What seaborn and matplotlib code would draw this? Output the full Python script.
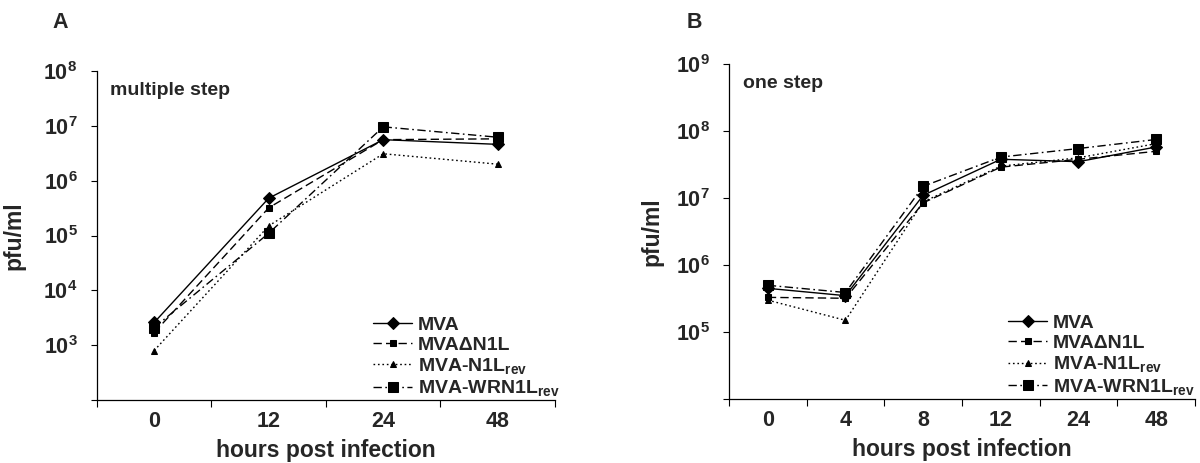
import matplotlib
matplotlib.use("Agg")
import matplotlib.pyplot as plt
import seaborn as sns
import numpy as np
from matplotlib.ticker import FixedLocator, FuncFormatter

sns.set_theme(style="white")
plt.rcParams['font.family'] = ['Liberation Sans', 'DejaVu Sans']
plt.rcParams['font.weight'] = 'bold'
plt.rcParams['mathtext.fontset'] = 'custom'
plt.rcParams['mathtext.rm'] = 'Liberation Sans:bold'
plt.rcParams['mathtext.it'] = 'Liberation Sans:bold'
plt.rcParams['mathtext.bf'] = 'Liberation Sans:bold'
plt.rcParams['mathtext.default'] = 'rm'

# ---------- data ----------
series_names = ["MVA", "MVA\u0394N1L", "MVA-N1L$_{rev}$", "MVA-WRN1L$_{rev}$"]

hours_a = ["0", "12", "24", "48"]
mva_a = [2.6e3, 4.8e5, 5.6e6, 4.6e6]
dn1l_a = [1.7e3, 3.2e5, 5.6e6, 5.8e6]
n1lrev_a = [8.0e2, 1.5e5, 3.1e6, 2.0e6]
wrn1lrev_a = [2.1e3, 1.1e5, 9.6e6, 6.2e6]

hours_b = ["0", "4", "8", "12", "24", "48"]
mva_b = [4.5e5, 3.5e5, 1.1e7, 3.8e7, 3.5e7, 5.8e7]
dn1l_b = [3.3e5, 3.2e5, 8.5e6, 2.9e7, 3.8e7, 5.0e7]
n1lrev_b = [3.0e5, 1.5e5, 8.8e6, 3.0e7, 4.0e7, 6.5e7]
wrn1lrev_b = [5.0e5, 3.9e5, 1.5e7, 4.1e7, 5.5e7, 7.5e7]

styles = [
    dict(marker="D", markersize=6.5, linestyle="-"),
    dict(marker="s", markersize=4, linestyle=(0, (6, 3))),
    dict(marker="^", markersize=4.5, linestyle=(0, (1.2, 2))),
    dict(marker="s", markersize=7.5, linestyle=(0, (6, 2.5, 1.2, 2.5))),
]

fig = plt.figure(figsize=(12, 4.63), dpi=100)
ax_a = fig.add_axes([0.0808, 0.136, 0.3817, 0.7106])
ax_b = fig.add_axes([0.6075, 0.138, 0.3883, 0.7235])


def draw(ax, hours, data, ylim, note, ylab_x, legend_anchor):
    pos = np.arange(len(hours))
    for name, vals, st in zip(series_names, data, styles):
        sns.lineplot(x=pos, y=vals, ax=ax, color="black", linewidth=1.0,
                     marker=st["marker"], markersize=st["markersize"],
                     markeredgecolor="black", markerfacecolor="black",
                     label=name, sort=False)
        ax.lines[-1].set_linestyle(st["linestyle"])
    ax.set_yscale("log")
    ax.set_ylim(*ylim)
    ax.set_xlim(-0.5, len(hours) - 0.5)
    lo, hi = int(round(np.log10(ylim[0]))), int(round(np.log10(ylim[1])))
    decades = [10.0 ** k for k in range(lo, hi + 1)]
    ax.yaxis.set_major_locator(FixedLocator(decades))
    ax.yaxis.set_minor_locator(FixedLocator([]))

    def fmt(x, p=None):
        k = int(round(np.log10(x)))
        if k <= lo:
            return ""
        return "$10^{%d}$" % k
    ax.yaxis.set_major_formatter(FuncFormatter(fmt))

    ax.set_xticks(pos)
    ax.set_xticklabels(hours, fontsize=15.5, fontweight="bold")
    ax.set_xticks(np.arange(-0.5, len(hours), 1.0), minor=True)
    ax.tick_params(axis="x", which="major", length=0, pad=8)
    ax.tick_params(axis="x", which="minor", length=5, width=0.8, direction="out",
                   color="black", bottom=True)
    ax.tick_params(axis="y", which="major", length=4, width=0.8, direction="out",
                   color="black", left=True, labelsize=15.5, pad=10)
    for lab in ax.get_yticklabels():
        lab.set_fontweight("bold")
    for s in ["top", "right"]:
        ax.spines[s].set_visible(False)
    for s in ["left", "bottom"]:
        ax.spines[s].set_color("black")
        ax.spines[s].set_linewidth(0.9)
    ax.set_xlabel("hours post infection", fontsize=16.5, fontweight="bold", labelpad=5)
    ax.set_ylabel("pfu/ml", fontsize=16.5, fontweight="bold")
    ax.yaxis.set_label_coords(ylab_x, 0.5)
    ax.text(0.029, 0.942, note, transform=ax.transAxes, fontsize=14,
            fontweight="bold", va="center", ha="left")
    leg = ax.legend(loc="lower left", bbox_to_anchor=legend_anchor, frameon=False,
                    fontsize=14, handlelength=2.0, handletextpad=0.3,
                    labelspacing=0.12, borderpad=0, borderaxespad=0)
    for t in leg.get_texts():
        t.set_fontweight("bold")
    for h, st in zip(leg.get_lines(), styles):
        h.set_linestyle(st["linestyle"])


draw(ax_a, hours_a, [mva_a, dn1l_a, n1lrev_a, wrn1lrev_a], (1e2, 1e8),
     "multiple step", -0.155, (0.603, 0.005))
draw(ax_b, hours_b, [mva_b, dn1l_b, n1lrev_b, wrn1lrev_b], (1e4, 1e9),
     "one step", -0.14, (0.599, 0.007))

fig.text(0.0435, 0.952, "A", fontsize=15.5, fontweight="bold", va="center", ha="left")
fig.text(0.572, 0.952, "B", fontsize=15.5, fontweight="bold", va="center", ha="left")

fig.savefig("out.png", dpi=100, facecolor="white")
